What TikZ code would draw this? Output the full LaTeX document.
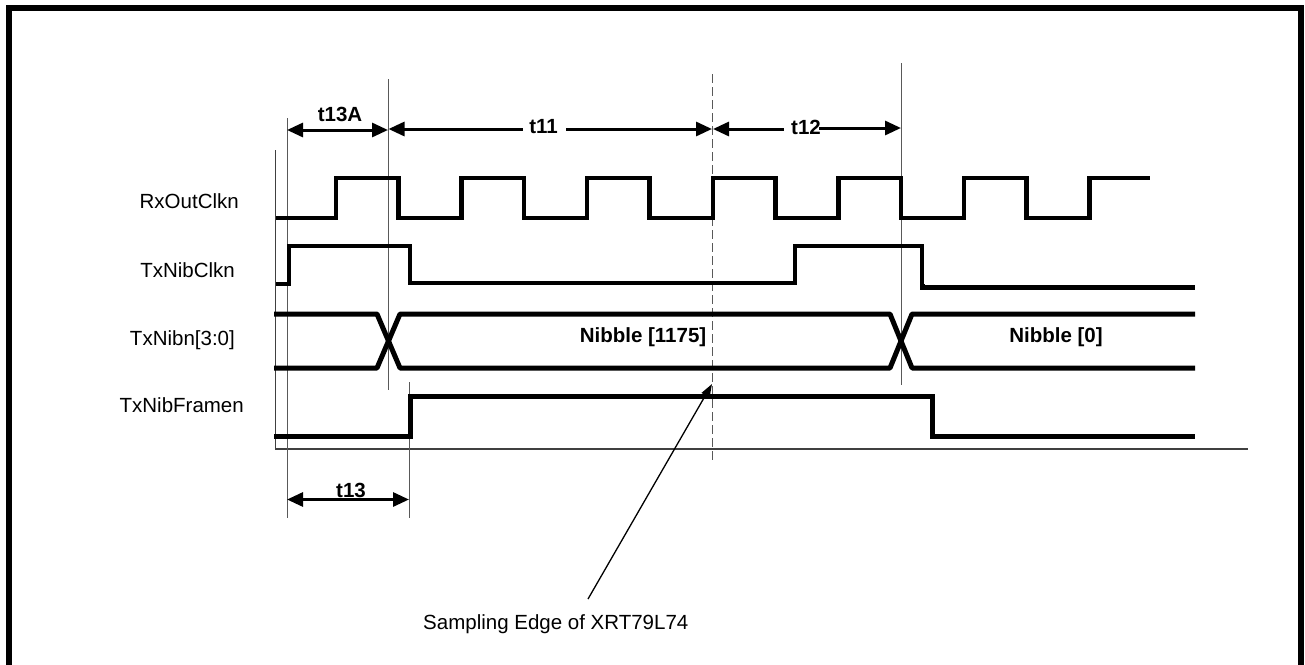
\documentclass[tikz,border=0pt]{standalone}
\usepackage{fontspec}
\setmainfont{Liberation Sans}
\usetikzlibrary{arrows.meta}
\begin{document}
\begin{tikzpicture}[x=1pt,y=-1pt,
  txt/.style={font=\fontsize{20.5}{24}\selectfont, inner sep=0pt},
  btxt/.style={font=\fontsize{20.5}{24}\selectfont\bfseries, inner sep=0pt},
  sig/.style={line width=5pt, line join=miter, black},
  thin/.style={line width=1pt, black!65},
  axisln/.style={line width=1.6pt, black!75},
  dimR/.style={line width=3pt, -{Triangle[length=16pt,width=14pt]}},
  dimL/.style={line width=3pt, {Triangle[length=16pt,width=14pt]}-},
  dimB/.style={line width=3pt, {Triangle[length=16pt,width=14pt]}-{Triangle[length=16pt,width=14pt]}},
  leader/.style={line width=1.3pt, -{Triangle[length=13pt,width=9pt]}}
]
\useasboundingbox (0,0) rectangle (1305,664);
\clip (0,0) rectangle (1305,664);
% frame
\draw[line width=6pt] (9,700) -- (9,8) -- (1301,8) -- (1301,700);

% reference lines
\coordinate (ax0) at (275.5,150);
\coordinate (axc) at (275.5,449);
\coordinate (ax1) at (1248,449);
\draw[axisln] (ax0) -- (axc) -- (ax1);
\draw[thin] (287,118) coordinate (v1t) -- (287,518) coordinate (v1b);
\draw[thin] (388,79) coordinate (v2t) -- (388,390) coordinate (v2b);
\draw[thin] (409.5,382) coordinate (v3t) -- (409.5,518) coordinate (v3b);
\draw[thin, dash pattern=on 9pt off 4pt] (712.5,74) coordinate (v4t) -- (712.5,462) coordinate (v4b);
\draw[thin] (901,63) coordinate (v5t) -- (901,385) coordinate (v5b);

% signal labels
\node[txt, anchor=base east] (lrx) at (239,208) {RxOutClkn};
\node[txt, anchor=base east] (lnc) at (235,277) {TxNibClkn};
\node[txt, anchor=base east] (lnb) at (235,345) {TxNibn[3:0]};
\node[txt, anchor=base east] (lfr) at (244,412) {TxNibFramen};

% RxOutClkn
\draw[sig, line width=4.5pt] (275.5,218) -- (336,218) -- (336,178) -- (398.5,178) -- (398.5,218)
  -- (461.6,218) -- (461.6,178) -- (524.1,178) -- (524.1,218)
  -- (587.2,218) -- (587.2,178) -- (649.7,178) -- (649.7,218)
  -- (712.8,218) -- (712.8,178) -- (775.3,178) -- (775.3,218)
  -- (838.4,218) -- (838.4,178) -- (900.9,178) -- (900.9,218)
  -- (964,218) -- (964,178) -- (1026.5,178) -- (1026.5,218)
  -- (1089.6,218) -- (1089.6,178) -- (1150,178);

% TxNibClkn
\draw[sig, line width=4pt] (276,284) -- (289,284) -- (289,246) -- (409.5,246) -- (409.5,283)
  -- (795,283) -- (795,246) -- (922,246) -- (922,285);
\draw[sig] (922,284) -- (922,287) -- (1195,287);

% TxNibn[3:0]
\draw[sig, line join=round] (274,314) -- (377,314) -- (400,368) -- (890,368) -- (912,314) -- (1195,314);
\draw[sig, line join=round] (274,368) -- (377,368) -- (400,314) -- (890,314) -- (912,368) -- (1195,368);
\node[btxt] (nb1) at (643,337) {Nibble [1175]};
\node[btxt] (nb0) at (1056,337) {Nibble [0]};

% TxNibFramen
\draw[sig] (274,436) -- (410,436) -- (410,396) -- (932.5,396) -- (932.5,436) -- (1195,436);

% timing dimensions
\node[btxt, anchor=base] (t13A) at (340,121.5) {t13A};
\coordinate (a1) at (287,130);
\coordinate (a2) at (388,130);
\draw[dimB] (a1) -- (a2);

\node[btxt, anchor=base] (t11) at (543.5,133.3) {t11};
\coordinate (b1) at (388.5,129);
\coordinate (b2) at (523,129);
\coordinate (b3) at (566,129);
\coordinate (b4) at (712,129);
\draw[dimL] (b1) -- (b2);
\draw[dimR] (b3) -- (b4);

\node[btxt, anchor=base] (t12) at (806,134) {t12};
\coordinate (c1) at (713,129);
\coordinate (c2) at (784,129);
\coordinate (c3) at (819,128);
\coordinate (c4) at (901,128);
\draw[dimL] (c1) -- (c2);
\draw[dimR] (c3) -- (c4);

\node[btxt, anchor=base] (t13) at (351,497) {t13};
\coordinate (d1) at (287,499.5);
\coordinate (d2) at (409,499.5);
\draw[dimB] (d1) -- (d2);

% sampling edge annotation
\node[txt, anchor=base west] (samp) at (423,629) {Sampling Edge of XRT79L74};
\coordinate (s0) at (588,599);
\coordinate (s1) at (712,384);
\draw[leader] (s0) -- (s1);
\end{tikzpicture}
\end{document}
